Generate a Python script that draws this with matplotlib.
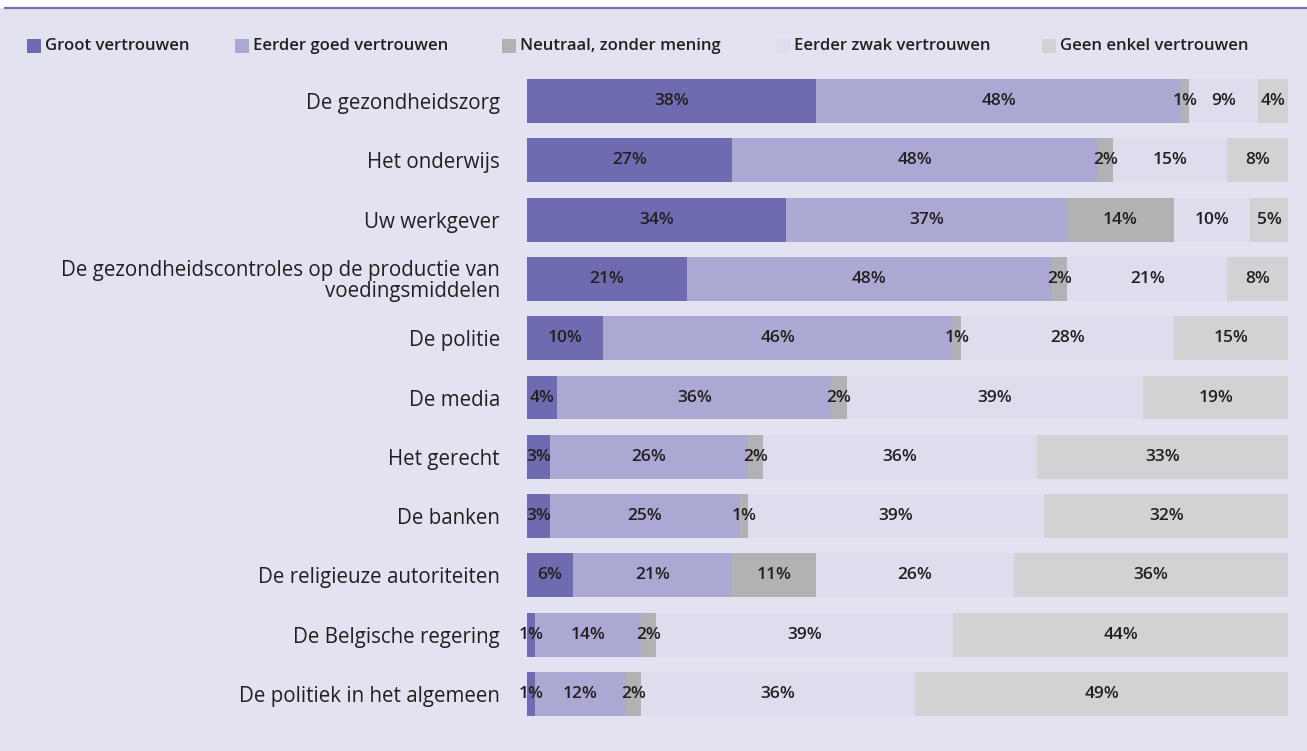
import matplotlib
matplotlib.use("Agg")
import matplotlib.pyplot as plt
import numpy as np
from matplotlib.patches import Rectangle

categories = [
    "De gezondheidszorg",
    "Het onderwijs",
    "Uw werkgever",
    "De gezondheidscontroles op de productie van\nvoedingsmiddelen",
    "De politie",
    "De media",
    "Het gerecht",
    "De banken",
    "De religieuze autoriteiten",
    "De Belgische regering",
    "De politiek in het algemeen",
]
series_names = [
    "Groot vertrouwen",
    "Eerder goed vertrouwen",
    "Neutraal, zonder mening",
    "Eerder zwak vertrouwen",
    "Geen enkel vertrouwen",
]
groot = [38, 27, 34, 21, 10, 4, 3, 3, 6, 1, 1]
goed = [48, 48, 37, 48, 46, 36, 26, 25, 21, 14, 12]
neutraal = [1, 2, 14, 2, 1, 2, 2, 1, 11, 2, 2]
zwak = [9, 15, 10, 21, 28, 39, 36, 39, 26, 39, 36]
geen = [4, 8, 5, 8, 15, 19, 33, 32, 36, 44, 49]

colors = ["#6f6bb0", "#aba8d3", "#b2b2b4", "#dfdcee", "#d1d2d4"]
BG = "#e3e2f0"
TXT = "#231f20"
FONT = "Open Sans"

W, H = 1307, 751
fig = plt.figure(figsize=(W / 100, H / 100), dpi=100)
fig.patch.set_facecolor("white")

# lavender panel with purple rule on top (kept behind the axes)
fig.patches.append(Rectangle((0, 0), 1, 1 - 8 / H, transform=fig.transFigure,
                             facecolor=BG, edgecolor="none", zorder=-5))
fig.add_artist(plt.Line2D([0.004, 1], [1 - 8 / H, 1 - 8 / H],
                          transform=fig.transFigure, color="#7770b5", lw=1.6,
                          zorder=-4))

ax = fig.add_axes([527 / W, 1 - 723.6 / H, 761 / W, (723.6 - 71.4) / H])
ax.set_facecolor("none")
ax.set_zorder(2)

data = [groot, goed, neutraal, zwak, geen]
y = np.arange(len(categories))
left = np.zeros(len(categories))
for vals, col in zip(data, colors):
    vals = np.array(vals, dtype=float)
    ax.barh(y, vals, left=left, height=0.742, color=col, edgecolor="none")
    for yi, l, v in zip(y, left, vals):
        ax.text(l + v / 2, yi, f"{int(v)}%", ha="center", va="center",
                fontsize=12.5, color=TXT, family=FONT, fontweight="semibold")
    left += vals

ax.set_xlim(0, 100)
ax.set_ylim(len(categories) - 0.5, -0.5)
ax.set_xticks([])
ax.set_yticks(y)
ax.set_yticklabels(categories, fontsize=14.8, color=TXT, family=FONT,
                   linespacing=1.0)
ax.tick_params(axis="y", length=0, pad=19.5)  # points -> ~27 px
for lab in ax.get_yticklabels():
    lab.set_horizontalalignment("right")
for s in ax.spines.values():
    s.set_visible(False)

# legend
leg_x = [27, 235, 502, 776, 1042]
leg_y = 46
for x, name, col in zip(leg_x, series_names, colors):
    fig.patches.append(Rectangle((x / W, 1 - (leg_y + 7) / H), 14 / W, 14 / H,
                                 transform=fig.transFigure, facecolor=col,
                                 edgecolor="none"))
    fig.text((x + 18) / W, 1 - leg_y / H, name, ha="left", va="center",
             fontsize=12, color=TXT, family=FONT, fontweight="semibold")

fig.savefig("out.png", dpi=100, facecolor="white")
